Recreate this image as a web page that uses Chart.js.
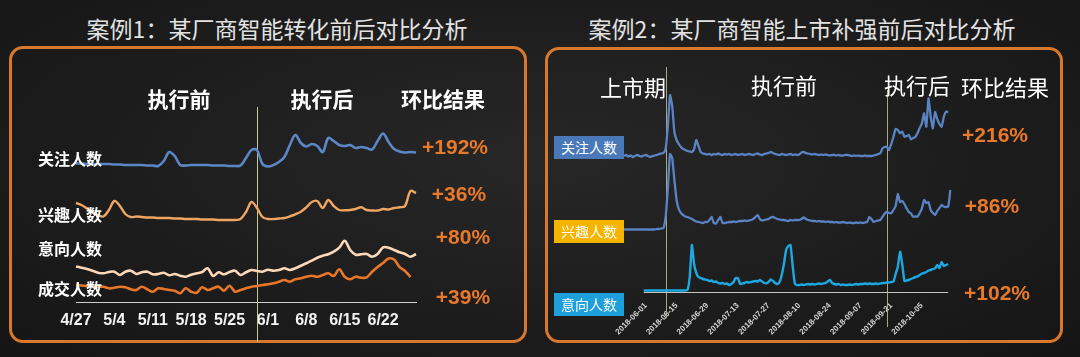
<!DOCTYPE html>
<html>
<head>
<meta charset="utf-8">
<script src="https://cdn.jsdelivr.net/npm/chart.js@4/dist/chart.umd.min.js"></script>
<style>
  body { margin: 0; background: #181818; }
  #page {
    position: relative; width: 1080px; height: 357px; overflow: hidden;
    background: radial-gradient(ellipse at 50% 45%, #272727 0%, #1c1c1c 60%, #151515 100%);
    font-family: "Noto Sans CJK SC", sans-serif; color: #fff;
  }
  .box { position: absolute; border: 3px solid #d8782d; border-radius: 14px; box-sizing: border-box; }
  canvas { position: absolute; top: 0; }
  .t { position: absolute; transform: translate(-50%, -50%); white-space: nowrap; line-height: 1; }
  .title { font-size: 23px; color: #e2e2e2; }
  .hd { font-size: 21px; font-weight: 700; }
  .hd2 { font-size: 22px; }
  .sl { position: absolute; transform: translateY(-50%); font-size: 16px; font-weight: 700; line-height: 1; }
  .pct { font-family: "Liberation Sans", Arial, sans-serif; font-weight: 700; font-size: 21px; color: #e8792b; }
  .tag { position: absolute; width: 70px; height: 23px; line-height: 23px; text-align: center; font-size: 14px; color: #fff; }
</style>
</head>
<body>
<div id="page">
  <div class="t title" style="left:277px; top:28px;">案例1：某厂商智能转化前后对比分析</div>
  <div class="t title" style="left:802px; top:28px;">案例2：某厂商智能上市补强前后对比分析</div>

  <div class="box" style="left:9px; top:46px; width:518px; height:297px;"></div>
  <div class="box" style="left:545px; top:47px; width:518px; height:296px;"></div>

  <canvas id="left" width="540" height="357" style="left:0"></canvas>
  <canvas id="right" width="540" height="357" style="left:540px"></canvas>

  <!-- case 1 annotations -->
  <div class="t hd" style="left:179px; top:98px;">执行前</div>
  <div class="t hd" style="left:322px; top:98px;">执行后</div>
  <div class="t hd" style="left:443px; top:98px;">环比结果</div>
  <div class="sl" style="left:38px; top:158px;">关注人数</div>
  <div class="sl" style="left:38px; top:214px;">兴趣人数</div>
  <div class="sl" style="left:38px; top:248px;">意向人数</div>
  <div class="sl" style="left:38px; top:288px;">成交人数</div>
  <div class="t pct" style="left:455px; top:146px;">+192%</div>
  <div class="t pct" style="left:459px; top:193px;">+36%</div>
  <div class="t pct" style="left:463px; top:236px;">+80%</div>
  <div class="t pct" style="left:463px; top:296px;">+39%</div>

  <!-- case 2 annotations -->
  <div class="t hd2" style="left:633px; top:86px;">上市期</div>
  <div class="t hd2" style="left:784px; top:84px;">执行前</div>
  <div class="t hd2" style="left:917px; top:84px;">执行后</div>
  <div class="t hd2" style="left:1005px; top:86px;">环比结果</div>
  <div class="tag" style="left:554px; top:136px; background:#4a79b9;">关注人数</div>
  <div class="tag" style="left:554px; top:220px; background:#f5b400;">兴趣人数</div>
  <div class="tag" style="left:554px; top:293px; background:#1d9fdc;">意向人数</div>
  <div class="t pct" style="left:995px; top:134px;">+216%</div>
  <div class="t pct" style="left:992px; top:205px;">+86%</div>
  <div class="t pct" style="left:997px; top:292px;">+102%</div>
</div>

<script>
// case 1: daily index, 4/27 - 6/28 (lines are offset so they stack)
const leftStart = [2018, 4, 27];
const leftDayCount = 63;
const leftTicks = ['4/27', '5/4', '5/11', '5/18', '5/25', '6/1', '6/8', '6/15', '6/22'];

const attentionL = [
  138.5, 138.5, 138, 138, 138, 138,
  138, 137.5, 137.5, 137, 137, 137, 137, 136.5, 136.5,
  136, 141, 150, 146, 137,
  136.5, 137, 137, 137, 137, 136.5, 136.5, 136.5, 136, 136, 136.5,
  144, 152, 152, 138, 135.5,
  137, 140, 145, 157, 167, 159, 155.5, 158, 156, 150, 164, 161, 157, 156, 157, 154, 155, 154, 152.5,
  161, 168.5, 160, 153, 150.5, 149.5, 150, 149.5
];
const interestL = [
  99, 97, 93.5, 90, 87, 85.5, 92, 101, 96, 88, 85,
  85.5, 85, 84.5, 84.5, 84, 84, 84, 83.5, 83.5, 83, 83, 83, 82.5, 82.5, 82.5, 82, 82, 82, 82,
  83, 90, 100, 94, 85, 83, 83, 83.5, 84,
  85.7, 87.7, 90.3, 94.7, 100, 101, 94, 102, 96, 92,
  91.7, 92, 93, 94.7, 92, 91.5, 91.5, 93, 92.5, 94, 94.7, 96, 111, 109
];
const intentL = [
  35.5, 34.3, 33, 31.3, 29.3, 28.7, 30, 30.3, 27, 30.3,
  31.3, 28, 29.7, 30.3, 27.7, 28, 29.3, 26.7, 28, 26.3,
  25.3, 27.3, 28.7, 30, 33.7, 26, 29.7, 27.7, 30, 31.3,
  27, 29.7, 32, 31, 30.3, 32.3, 31.3, 32, 33.7, 32,
  33.7, 36.3, 38.7, 41.3, 44.3, 46.3, 47.7, 50.3, 54.3, 61.3,
  52, 47.3, 47.7, 48, 45.3, 48, 54.7, 54.3, 52, 49.7,
  48, 45.3, 48
];
const dealL = [
  17, 16.5, 16, 15.5, 15, 15.3, 13.7, 14.3, 15.3, 14.7,
  12.7, 12, 15.3, 12.7, 10.3, 13.7, 13, 12, 11.3, 8.7,
  13.7, 10.3, 9.3, 14.7, 12, 13.7, 15.3, 11.3, 16.3, 10.3,
  12, 13.7, 15.3, 16, 17, 17.7, 18.7, 20.3, 22, 20.3,
  22.7, 23.7, 25.3, 26.3, 25.3, 27, 28.7, 26, 32.7, 25.3,
  22.7, 25.3, 24.3, 24.7, 30.3, 35, 39, 43.5, 42.5, 35,
  31, 25, null
];

// case 2: daily index, 2018-05-22 - 2018-10-18
const rightStart = [2018, 5, 22];
const rightDayCount = 150;
const rightTicks = ['2018-06-01', '2018-06-15', '2018-06-29', '2018-07-13', '2018-07-27',
  '2018-08-10', '2018-08-24', '2018-09-07', '2018-09-21', '2018-10-05'];

const attentionR = [
  136, 137, 135.5, 136.5, 135, 136, 137, 136, 135.5, 136.5, 137, 136, 135, 136, 136.5, 137, 138, 138.5,
  139, 143, 165, 197, 186, 160, 152, 148, 145, 143, 142, 141, 140.5, 140, 143, 152, 146, 140, 138.5, 138,
  137.5, 138, 137, 138, 137.5, 138.5, 137.5, 137, 138, 137.5, 138, 137, 137.5, 138, 137,
  137.5, 138, 137, 137.5, 138, 137.5, 137, 138, 138.5, 137.5, 137, 138, 138.5, 139, 140,
  139, 138, 137.5, 137, 138, 137.5, 137, 137.5, 138, 137, 137.5, 137, 137.5,
  139.5, 140, 139, 138.5, 138, 137.5, 138, 137.5, 137, 137.5, 137, 137.5, 137, 136.5, 137,
  137, 136.5, 137, 136.5, 136.5, 137, 137, 136.5, 136, 136.5, 136, 136.5, 136, 136, 136.5,
  136, 136, 136, 136.5, 137, 138,
  138.7, 143.7, 145, 145.3, 142, 148, 155.3, 163, 162, 158.7, 160.3, 155.3, 156, 157, 152.7,
  154, 155, 159, 164, 168.7, 178.7, 165.3, 193.7, 175.3, 163.7, 180, 173, 168, 165.3, 175.3,
  180.3, 180, null
];
const interestR = [
  62.5, 62.5, 62.5, 62.5, 62.5, 62.5, 62.5, 62.5, 62.5, 62.5, 62.5, 62.5, 62.5, 62.5, 62.5, 63, 63, 63.5, 64,
  75, 103, 138, 134, 112, 92, 83, 79, 77, 75.5, 75, 74, 73, 71.5, 70.5, 70, 69.5, 69, 70,
  70, 72, 75, 69, 68.5, 72, 75, 69, 69, 69.5, 70, 70, 70.5, 70, 70.5, 71, 71, 71.5, 71, 71.5,
  72, 73, 75, 77, 73, 71.5, 72, 72.5, 73, 74.5, 75, 74, 73, 72.5, 72, 72, 71.5, 71, 72, 71.5,
  72, 72, 72, 73, 74.5, 73, 72,
  71.5, 71, 71, 70.5, 71, 70.5, 70.5, 70, 70.5, 70, 70, 69.5, 70, 69.5, 69.5, 70, 69.5, 69,
  69.5, 69, 69, 69.5, 69, 69.5, 69, 69.5, 70,
  75, 73, 70, 71, 71.5, 72, 75, 78.5, 80, 79, 78.7, 82, 86, 98, 90, 91, 88, 83.7, 80, 78.5,
  75.3, 75.5, 75.3, 79, 83.7, 92, 89, 90, 82, 79, 77, 81, 84, 87, 85.3, 85, 85.3, 102
];
const intentR = [
  null, null, null, null, null, null, null, null, null,
  1.5, 1.5, 1.5, 1.5, 1.5, 1.5, 1.5, 1.5, 1.5, 1.5, 1.5, 1.5, 1.5, 1.5, 1.5, 1.5, 1.5, 1.5, 1.5, 1.5, 2,
  15, 47, 28, 19, 15, 14, 13, 12.5, 12, 11, 11.5, 10, 10.5, 9, 8.5, 9, 8, 8.5, 7, 8,
  10, 14, 14, 8, 8.5, 9, 10, 9.5, 10, 10.5, 11, 10.5, 12, 10.5, 9, 8.7, 10, 12.5, 11, 9,
  8, 10, 17, 28, 42, 46, 47, 26, 8,
  7, 7, 7.5, 7, 7.5, 8, 7.5, 8, 7.5, 8, 8.5, 8, 8.5, 9, 10.5, 12, 9, 8, 7.5, 8,
  7, 7.5, 7, 7, 7.5, 7, 7.5, 8, 7.5, 8, 8, 8.5, 8, 8.5, 8, 8, 8.5, 8, 8.5, 9,
  9, 9.5, 9.5, 10, 10.3,
  18, 25.3, 40.3, 28, 11, 11.5, 12, 13, 14, 15, 15.5, 17, 18.5, 19, 20, 21.5, 22, 23, 23.7, 27,
  24, 30, 26, 27, 28, null
];

const pad = n => String(n).padStart(2, '0');
function dayLabels(start, count, fmt) {
  const out = [];
  for (let i = 0; i < count; i++) {
    const d = new Date(Date.UTC(start[0], start[1] - 1, start[2] + i));
    out.push(fmt(d));
  }
  return out;
}
const leftDays = dayLabels(leftStart, leftDayCount, d => (d.getUTCMonth() + 1) + '/' + d.getUTCDate());
const rightDays = dayLabels(rightStart, rightDayCount,
  d => d.getUTCFullYear() + '-' + pad(d.getUTCMonth() + 1) + '-' + pad(d.getUTCDate()));

// thin vertical separators (and an optional baseline) placed on category positions
const markers = {
  id: 'markers',
  beforeDatasetsDraw(chart, args, opts) {
    const ctx = chart.ctx, xs = chart.scales.x, labels = chart.data.labels;
    ctx.save();
    ctx.lineWidth = 1;
    ctx.strokeStyle = opts.color;
    (opts.lines || []).forEach(l => {
      const px = Math.round(xs.getPixelForValue(labels.indexOf(l.at))) + 0.5;
      ctx.beginPath();
      ctx.moveTo(px, l.from);
      ctx.lineTo(px, l.to);
      ctx.stroke();
    });
    if (opts.axisFrom) {
      const y = Math.round(chart.scales.y.getPixelForValue(0)) + 0.5;
      ctx.strokeStyle = '#c4c4c4';
      ctx.beginPath();
      ctx.moveTo(xs.getPixelForValue(labels.indexOf(opts.axisFrom)), y);
      ctx.lineTo(xs.getPixelForValue(labels.indexOf(opts.axisTo)), y);
      ctx.stroke();
    }
    ctx.restore();
  }
};

const line = (data, color, width) => ({
  data, borderColor: color, borderWidth: width, pointRadius: 0, fill: false
});

new Chart(document.getElementById('left'), {
  type: 'line',
  data: {
    labels: leftDays,
    datasets: [
      line(attentionL, '#5b87c7', 2.6),
      line(interestL, '#f0a663', 2.4),
      line(intentL, '#fcd8b8', 2.6),
      line(dealL, '#e8772a', 2.6)
    ]
  },
  options: {
    responsive: false,
    animation: false,
    layout: { padding: { left: 76, right: 124, top: 102, bottom: 25 } },
    elements: { line: { tension: 0.35 } },
    plugins: {
      legend: { display: false },
      tooltip: { enabled: false },
      markers: { color: '#c9c69c', lines: [{ at: '5/30', from: 107, to: 342 }] }
    },
    scales: {
      x: {
        grid: { display: false, drawTicks: false },
        border: { display: true, color: '#cfcfcf', width: 1 },
        afterFit: s => { s.height = 30; },
        ticks: {
          autoSkip: false, maxRotation: 0, padding: 9, color: '#f2f2f2',
          font: { family: 'Liberation Sans', size: 16, weight: 'bold' },
          callback(v) {
            const l = this.getLabelForValue(v);
            return leftTicks.includes(l) ? l : '';
          }
        }
      },
      y: { display: false, min: 0, max: 200 }
    }
  },
  plugins: [markers]
});

new Chart(document.getElementById('right'), {
  type: 'line',
  data: {
    labels: rightDays,
    datasets: [
      line(attentionR, '#5a83c4', 2.3),
      line(interestR, '#5a83c4', 2.3),
      line(intentR, '#1ea8e2', 2.4)
    ]
  },
  options: {
    responsive: false,
    animation: false,
    layout: { padding: { left: 84, right: 129.6, top: 92, bottom: 20 } },
    elements: { line: { tension: 0.15 } },
    plugins: {
      legend: { display: false },
      tooltip: { enabled: false },
      markers: {
        color: '#a9a886',
        lines: [
          { at: '2018-06-10', from: 67, to: 318 },
          { at: '2018-09-19', from: 90, to: 327 }
        ],
        axisFrom: '2018-05-31',
        axisTo: '2018-10-17'
      }
    },
    scales: {
      x: {
        grid: { display: false, drawTicks: false },
        border: { display: false },
        afterFit: s => { s.height = 45; },
        ticks: {
          autoSkip: false, minRotation: 45, maxRotation: 45, padding: 9, color: '#d6d6d6',
          font: { family: 'Liberation Sans', size: 8, weight: 'bold' },
          callback(v) {
            const l = this.getLabelForValue(v);
            return rightTicks.includes(l) ? l : '';
          }
        }
      },
      y: { display: false, min: 0, max: 200 }
    }
  },
  plugins: [markers]
});
</script>
</body>
</html>
